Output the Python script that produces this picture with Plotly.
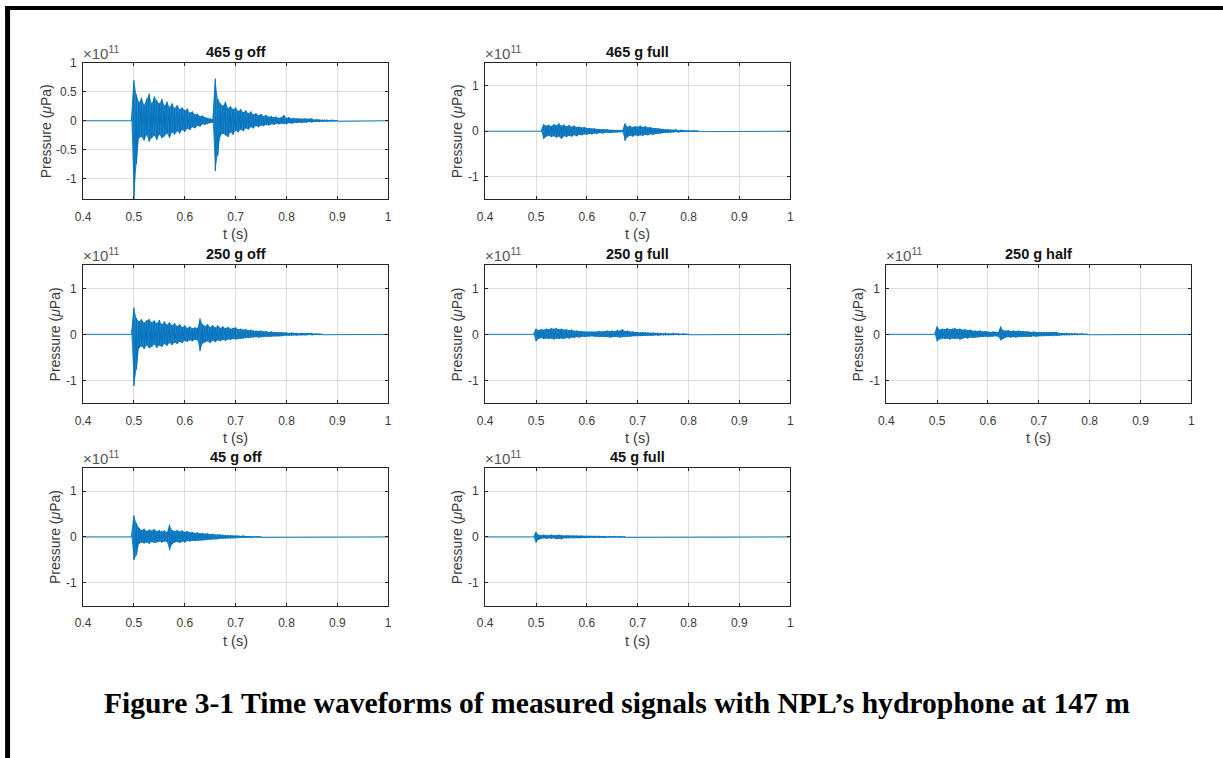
import plotly.graph_objects as go

# ---------------------------------------------------------------------------
# Hydrophone waveforms (pressure in units of 1e11 uPa).
# Each record is stored as the upper / lower peak envelope sampled every DT
# seconds from its start time T0; outside that window the trace sits on 0.
# ---------------------------------------------------------------------------
T_BEGIN = 0.4
T_END = 1.0
DT = 0.005

titles = ["465 g off", "465 g full", "250 g off", "250 g full",
          "250 g half", "45 g off", "45 g full"]

t0_465_off = 0.495
up_465_off = [0.00, 0.70, 0.45, 0.32, 0.40, 0.28, 0.38, 0.47, 0.30, 0.42,
              0.35, 0.30, 0.38, 0.26, 0.33, 0.24, 0.30, 0.22, 0.27, 0.20,
              0.23, 0.18, 0.21, 0.14, 0.16, 0.11, 0.12, 0.08, 0.09, 0.06,
              0.05, 0.04, 0.03, 0.73, 0.38, 0.30, 0.26, 0.33, 0.22, 0.25,
              0.20, 0.23, 0.17, 0.20, 0.15, 0.18, 0.13, 0.16, 0.11, 0.13,
              0.09, 0.12, 0.08, 0.10, 0.07, 0.08, 0.06, 0.07, 0.05, 0.06,
              0.10, 0.05, 0.06, 0.04, 0.05, 0.04, 0.04, 0.03, 0.04, 0.03,
              0.03, 0.04, 0.02, 0.03, 0.02, 0.02, 0.02, 0.02, 0.01, 0.02,
              0.01, 0.01]
lo_465_off = [0.00, -1.36, -0.75, -0.30, -0.28, -0.34, -0.25, -0.36, -0.30, -0.26,
              -0.33, -0.24, -0.30, -0.27, -0.22, -0.30, -0.20, -0.24, -0.18, -0.22,
              -0.16, -0.19, -0.14, -0.16, -0.11, -0.13, -0.09, -0.10, -0.06, -0.07,
              -0.05, -0.04, -0.03, -0.87, -0.60, -0.27, -0.22, -0.25, -0.28, -0.20,
              -0.24, -0.17, -0.20, -0.15, -0.18, -0.13, -0.15, -0.11, -0.13, -0.09,
              -0.11, -0.08, -0.09, -0.07, -0.08, -0.06, -0.07, -0.05, -0.06, -0.05,
              -0.05, -0.06, -0.04, -0.05, -0.04, -0.04, -0.03, -0.04, -0.03, -0.03,
              -0.02, -0.03, -0.02, -0.02, -0.02, -0.02, -0.01, -0.02, -0.01, -0.01,
              -0.01, -0.01]

t0_465_full = 0.510
up_465_full = [0.00, 0.15, 0.12, 0.14, 0.11, 0.15, 0.13, 0.17, 0.12, 0.14,
               0.11, 0.13, 0.10, 0.12, 0.09, 0.10, 0.08, 0.09, 0.07, 0.07,
               0.06, 0.06, 0.05, 0.05, 0.04, 0.04, 0.04, 0.03, 0.03, 0.03,
               0.02, 0.03, 0.02, 0.17, 0.10, 0.12, 0.09, 0.11, 0.10, 0.12,
               0.09, 0.11, 0.08, 0.09, 0.07, 0.07, 0.06, 0.05, 0.05, 0.04,
               0.04, 0.03, 0.03, 0.04, 0.02, 0.03, 0.02, 0.02, 0.02, 0.01,
               0.02, 0.01, 0.01]
lo_465_full = [0.00, -0.17, -0.12, -0.10, -0.13, -0.11, -0.14, -0.12, -0.17, -0.11,
               -0.13, -0.10, -0.12, -0.09, -0.11, -0.08, -0.09, -0.07, -0.08, -0.06,
               -0.07, -0.05, -0.06, -0.04, -0.05, -0.04, -0.03, -0.04, -0.03, -0.03,
               -0.03, -0.02, -0.02, -0.21, -0.13, -0.10, -0.12, -0.09, -0.11, -0.09,
               -0.10, -0.08, -0.09, -0.07, -0.08, -0.06, -0.06, -0.05, -0.04, -0.04,
               -0.04, -0.03, -0.03, -0.02, -0.03, -0.02, -0.02, -0.02, -0.01, -0.02,
               -0.01, -0.01, -0.01]

t0_250_off = 0.495
up_250_off = [0.00, 0.58, 0.35, 0.28, 0.33, 0.25, 0.30, 0.33, 0.26, 0.30,
              0.24, 0.31, 0.22, 0.28, 0.21, 0.26, 0.20, 0.24, 0.18, 0.22,
              0.16, 0.19, 0.14, 0.17, 0.13, 0.15, 0.14, 0.34, 0.22, 0.18,
              0.22, 0.16, 0.20, 0.15, 0.19, 0.14, 0.17, 0.13, 0.16, 0.12,
              0.14, 0.15, 0.11, 0.12, 0.10, 0.11, 0.09, 0.10, 0.08, 0.08,
              0.07, 0.08, 0.06, 0.07, 0.05, 0.06, 0.05, 0.05, 0.04, 0.05,
              0.04, 0.04, 0.03, 0.04, 0.03, 0.03, 0.02, 0.03, 0.02, 0.02,
              0.02, 0.03, 0.01, 0.02, 0.01, 0.01]
lo_250_off = [0.00, -1.12, -0.76, -0.30, -0.26, -0.32, -0.24, -0.30, -0.27, -0.22,
              -0.29, -0.24, -0.27, -0.21, -0.25, -0.19, -0.23, -0.18, -0.21, -0.16,
              -0.19, -0.14, -0.16, -0.13, -0.15, -0.12, -0.13, -0.36, -0.20, -0.17,
              -0.15, -0.19, -0.14, -0.17, -0.13, -0.15, -0.12, -0.14, -0.11, -0.12,
              -0.10, -0.11, -0.10, -0.09, -0.09, -0.08, -0.08, -0.07, -0.07, -0.06,
              -0.07, -0.06, -0.06, -0.05, -0.05, -0.05, -0.04, -0.04, -0.04, -0.04,
              -0.03, -0.03, -0.03, -0.03, -0.02, -0.03, -0.02, -0.02, -0.02, -0.02,
              -0.01, -0.02, -0.01, -0.01, -0.01, -0.01]

t0_250_full = 0.495
up_250_full = [0.00, 0.12, 0.09, 0.11, 0.10, 0.12, 0.11, 0.13, 0.12, 0.13,
               0.11, 0.12, 0.10, 0.11, 0.09, 0.10, 0.08, 0.08, 0.07, 0.07,
               0.06, 0.06, 0.05, 0.06, 0.05, 0.06, 0.07, 0.06, 0.07, 0.08,
               0.07, 0.08, 0.07, 0.09, 0.08, 0.11, 0.07, 0.08, 0.06, 0.06,
               0.05, 0.05, 0.04, 0.05, 0.04, 0.04, 0.03, 0.04, 0.03, 0.03,
               0.03, 0.02, 0.03, 0.02, 0.02, 0.03, 0.02, 0.02, 0.01, 0.02,
               0.01, 0.01]
lo_250_full = [0.00, -0.15, -0.10, -0.08, -0.10, -0.09, -0.10, -0.09, -0.11, -0.09,
               -0.10, -0.09, -0.10, -0.08, -0.09, -0.07, -0.08, -0.06, -0.07, -0.05,
               -0.06, -0.05, -0.05, -0.04, -0.05, -0.05, -0.06, -0.05, -0.06, -0.06,
               -0.07, -0.06, -0.06, -0.06, -0.07, -0.06, -0.06, -0.05, -0.05, -0.04,
               -0.04, -0.04, -0.04, -0.03, -0.03, -0.03, -0.03, -0.03, -0.02, -0.03,
               -0.02, -0.02, -0.02, -0.02, -0.02, -0.02, -0.01, -0.02, -0.01, -0.01,
               -0.01, -0.01]

t0_250_half = 0.495
up_250_half = [0.00, 0.17, 0.10, 0.12, 0.11, 0.13, 0.11, 0.12, 0.13, 0.11,
               0.12, 0.10, 0.11, 0.09, 0.10, 0.08, 0.08, 0.07, 0.08, 0.06,
               0.07, 0.06, 0.05, 0.06, 0.05, 0.05, 0.17, 0.09, 0.08, 0.09,
               0.07, 0.08, 0.07, 0.08, 0.07, 0.07, 0.06, 0.06, 0.05, 0.06,
               0.05, 0.05, 0.04, 0.05, 0.04, 0.04, 0.05, 0.04, 0.05, 0.03,
               0.03, 0.02, 0.03, 0.02, 0.02, 0.02, 0.02, 0.01, 0.02, 0.01,
               0.01]
lo_250_half = [0.00, -0.15, -0.11, -0.09, -0.10, -0.09, -0.11, -0.09, -0.10, -0.09,
               -0.11, -0.09, -0.08, -0.09, -0.07, -0.08, -0.07, -0.07, -0.06, -0.06,
               -0.05, -0.06, -0.05, -0.05, -0.04, -0.05, -0.13, -0.10, -0.07, -0.06,
               -0.07, -0.06, -0.07, -0.06, -0.06, -0.05, -0.06, -0.05, -0.05, -0.04,
               -0.05, -0.04, -0.04, -0.04, -0.03, -0.04, -0.03, -0.04, -0.03, -0.03,
               -0.02, -0.02, -0.02, -0.02, -0.02, -0.01, -0.02, -0.01, -0.01, -0.01,
               -0.01]

t0_45_off = 0.495
up_45_off = [0.00, 0.47, 0.30, 0.20, 0.15, 0.18, 0.13, 0.16, 0.14, 0.17,
             0.13, 0.15, 0.12, 0.14, 0.11, 0.27, 0.15, 0.13, 0.15, 0.12,
             0.14, 0.11, 0.13, 0.10, 0.11, 0.09, 0.10, 0.08, 0.09, 0.07,
             0.08, 0.06, 0.07, 0.05, 0.06, 0.05, 0.05, 0.04, 0.04, 0.04,
             0.03, 0.03, 0.03, 0.02, 0.03, 0.02, 0.02, 0.02, 0.01, 0.02,
             0.01, 0.01]
lo_45_off = [0.00, -0.50, -0.40, -0.15, -0.12, -0.14, -0.12, -0.15, -0.11, -0.13,
             -0.12, -0.10, -0.12, -0.10, -0.11, -0.29, -0.16, -0.12, -0.11, -0.13,
             -0.10, -0.12, -0.09, -0.10, -0.08, -0.09, -0.08, -0.08, -0.07, -0.07,
             -0.06, -0.06, -0.05, -0.05, -0.05, -0.04, -0.04, -0.04, -0.03, -0.03,
             -0.03, -0.03, -0.02, -0.02, -0.02, -0.02, -0.01, -0.02, -0.01, -0.01,
             -0.01, -0.01]

t0_45_full = 0.495
up_45_full = [0.00, 0.11, 0.05, 0.04, 0.05, 0.04, 0.04, 0.05, 0.04, 0.04,
              0.05, 0.04, 0.03, 0.04, 0.03, 0.03, 0.03, 0.03, 0.02, 0.03,
              0.02, 0.02, 0.02, 0.02, 0.02, 0.02, 0.02, 0.02, 0.02, 0.01,
              0.02, 0.01, 0.02, 0.01, 0.02, 0.01, 0.01]
lo_45_full = [0.00, -0.12, -0.06, -0.04, -0.03, -0.04, -0.03, -0.04, -0.03, -0.05,
              -0.04, -0.05, -0.03, -0.03, -0.03, -0.02, -0.03, -0.02, -0.03, -0.02,
              -0.02, -0.02, -0.02, -0.01, -0.02, -0.01, -0.02, -0.01, -0.02, -0.01,
              -0.01, -0.01, -0.01, -0.01, -0.01, -0.01, -0.01]

records = [
    (t0_465_off, up_465_off, lo_465_off),
    (t0_465_full, up_465_full, lo_465_full),
    (t0_250_off, up_250_off, lo_250_off),
    (t0_250_full, up_250_full, lo_250_full),
    (t0_250_half, up_250_half, lo_250_half),
    (t0_45_off, up_45_off, lo_45_off),
    (t0_45_full, up_45_full, lo_45_full),
]

x_tickvals = [0.4, 0.5, 0.6, 0.7, 0.8, 0.9, 1.0]
x_ticktext = ["0.4", "0.5", "0.6", "0.7", "0.8", "0.9", "1"]
y_tickvals_fine = [-1, -0.5, 0, 0.5, 1]
y_ticktext_fine = ["-1", "-0.5", "0", "0.5", "1"]
y_tickvals = [-1, 0, 1]
y_ticktext = ["-1", "0", "1"]

caption = "Figure 3-1 Time waveforms of measured signals with NPL\u2019s hydrophone at 147 m"

# ---------------------------------------------------------------------------
# Page geometry in screen pixels.  The HTML body keeps its default 8px margin
# and the page is displayed at a 0.99 zoom, so screen positions are mapped
# back to figure pixels before being turned into paper fractions.
# ---------------------------------------------------------------------------
PAGE_W, PAGE_H = 1223, 758
BODY = 8
ZOOM = 0.99
W = round(PAGE_W / ZOOM) - BODY
H = round(PAGE_H / ZOOM) - BODY
COLS = [(83, 388), (485, 790), (886, 1191)]
ROWS = [(64, 200), (266, 404), (469, 606)]
# (row, col) of each panel
slots = [(0, 0), (0, 1), (1, 0), (1, 1), (1, 2), (2, 0), (2, 1)]

BLUE = "#0072BD"
BLUE_FILL = "rgba(0,114,189,0.85)"
AXIS_COL = "#262626"
TEXT_COL = "#3a3a3a"
FONT = "Liberation Sans, Arial, Helvetica, sans-serif"


def fx(x):
    return (x / ZOOM - BODY) / W


def fy(y):
    return 1 - (y / ZOOM - BODY) / H


fig = go.Figure()
annotations = []

for k, ((t0, up, lo), title, (r, c)) in enumerate(zip(records, titles, slots)):
    assert len(up) == len(lo)
    n = k + 1
    xa = "x" if n == 1 else f"x{n}"
    ya = "y" if n == 1 else f"y{n}"
    ts = [t0 + i * DT for i in range(len(up))]

    # dense core of the waveform: band between the peak envelopes
    fig.add_trace(go.Scatter(x=ts, y=up, mode="lines", xaxis=xa, yaxis=ya,
                             line=dict(width=0), showlegend=False,
                             hoverinfo="skip"))
    fig.add_trace(go.Scatter(x=ts, y=lo, mode="lines", xaxis=xa, yaxis=ya,
                             line=dict(width=0), fill="tonexty",
                             fillcolor=BLUE_FILL, showlegend=False,
                             hoverinfo="skip"))

    # oscillating trace swinging between the envelope peaks
    xs = [T_BEGIN]
    ys = [0.0]
    for t, u, l in zip(ts, up, lo):
        xs += [t, t]
        ys += [u, l]
    xs.append(T_END)
    ys.append(0.0)
    fig.add_trace(go.Scatter(x=xs, y=ys, mode="lines", xaxis=xa, yaxis=ya,
                             line=dict(color=BLUE, width=0.9),
                             showlegend=False, hoverinfo="skip"))

    x0, x1 = COLS[c]
    y0, y1 = ROWS[r]
    first = (k == 0)
    yr = [-1.36, 1.0] if first else [-1.5, 1.5]
    tv = y_tickvals_fine if first else y_tickvals
    tt = y_ticktext_fine if first else y_ticktext

    common = dict(showline=True, linecolor=AXIS_COL, linewidth=1, mirror="ticks",
                  ticks="inside", ticklen=3, tickcolor=AXIS_COL,
                  showgrid=True, gridcolor="#dedede", gridwidth=1,
                  zeroline=False, fixedrange=True,
                  tickfont=dict(family=FONT, size=12, color=TEXT_COL))
    fig.layout[f"xaxis{n}" if n > 1 else "xaxis"] = dict(
        domain=[fx(x0), fx(x1)], anchor=ya, range=[T_BEGIN, T_END],
        tickvals=x_tickvals, ticktext=x_ticktext, ticklabelstandoff=6, **common)
    fig.layout[f"yaxis{n}" if n > 1 else "yaxis"] = dict(
        domain=[fy(y1), fy(y0)], anchor=xa, range=yr,
        tickvals=tv, ticktext=tt, ticklabelstandoff=3, **common)

    cx = (x0 + x1) / 2
    # panel title
    annotations.append(dict(text=f"<b>{title}</b>", x=fx(cx), y=fy(y0 - 11),
                            xref="paper", yref="paper", xanchor="center",
                            yanchor="middle", showarrow=False,
                            font=dict(family=FONT, size=14.5, color="#111111")))
    # exponent
    annotations.append(dict(text="\u00d710<sup>11</sup>", x=fx(x0 - 2), y=fy(y0 + 1),
                            xref="paper", yref="paper", xanchor="left",
                            yanchor="bottom", showarrow=False,
                            font=dict(family=FONT, size=15, color="#555555")))
    # x label
    annotations.append(dict(text="t (s)", x=fx(cx), y=fy(y1 + 35),
                            xref="paper", yref="paper", xanchor="center",
                            yanchor="middle", showarrow=False,
                            font=dict(family=FONT, size=14.5, color=TEXT_COL)))
    # y label
    off = 37 if first else 28
    annotations.append(dict(text="Pressure (<i>\u03bc</i>Pa)", x=fx(x0 - off),
                            y=fy((y0 + y1) / 2), xref="paper", yref="paper",
                            xanchor="center", yanchor="middle", textangle=-90,
                            showarrow=False,
                            font=dict(family=FONT, size=14, color=TEXT_COL)))

annotations.append(dict(text=f"<b>{caption}</b>", x=fx(617), y=fy(703),
                        xref="paper", yref="paper", xanchor="center",
                        yanchor="middle", showarrow=False,
                        font=dict(family="Liberation Serif, Times New Roman, serif",
                                  size=29.6, color="#000000")))

# page frame: heavy rule along the top and down the left edge
shapes = [
    dict(type="rect", xref="paper", yref="paper", x0=fx(5), x1=1.0,
         y0=fy(11), y1=fy(7), fillcolor="#000000", line=dict(width=0),
         layer="above"),
    dict(type="rect", xref="paper", yref="paper", x0=fx(5), x1=fx(10),
         y0=0.0, y1=fy(7), fillcolor="#000000", line=dict(width=0),
         layer="above"),
]

fig.update_layout(width=W, height=H, margin=dict(l=0, r=0, t=0, b=0),
                  paper_bgcolor="white", plot_bgcolor="white",
                  annotations=annotations, shapes=shapes, showlegend=False)

fig.write_html("out.html", config={"displayModeBar": False})
